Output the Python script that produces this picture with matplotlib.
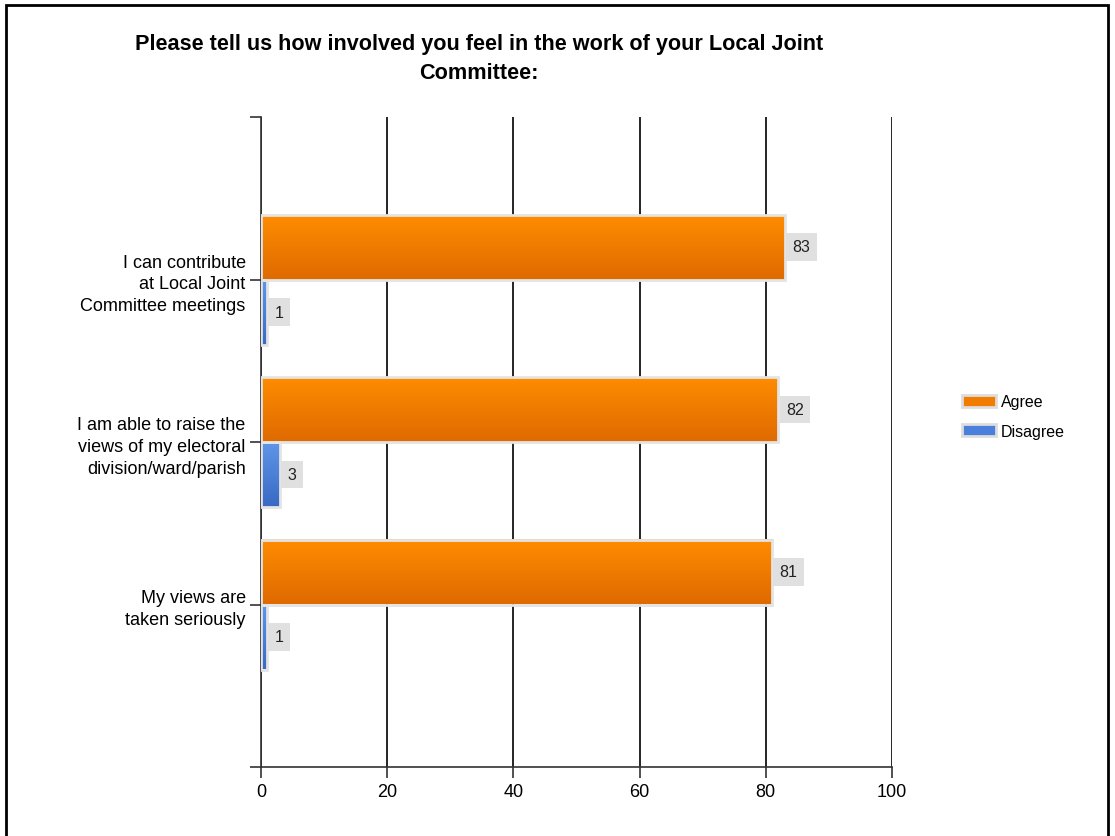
import numpy as np
import matplotlib
matplotlib.use("Agg")
import matplotlib.pyplot as plt
from matplotlib.patches import Patch, Rectangle
from matplotlib.colors import LinearSegmentedColormap

plt.rcParams['font.family'] = ['Liberation Sans', 'DejaVu Sans']

# data
categories = ['I can contribute\nat Local Joint\nCommittee meetings',
              'I am able to raise the\nviews of my electoral\ndivision/ward/parish',
              'My views are\ntaken seriously']
agree = [83, 82, 81]
disagree = [1, 3, 1]
series_names = ['Agree', 'Disagree']
title = 'Please tell us how involved you feel in the work of your Local Joint\nCommittee:'

orange_cmap = LinearSegmentedColormap.from_list('o', ['#ff8c00', '#df6a00'])
blue_cmap = LinearSegmentedColormap.from_list('b', ['#5f95e8', '#3a6ac4'])

fig = plt.figure(figsize=(11.15, 8.37), dpi=100)
ax = fig.add_axes([261 / 1115, 1 - 768 / 837, (892 - 261) / 1115, (768 - 118) / 837])

pos = np.arange(1, len(categories) + 1)
h = 0.4
grad = np.linspace(0, 1, 64).reshape(-1, 1)


def draw_bars(vals, offset, cmap, edge):
    for p, v in zip(pos, vals):
        y0 = p + offset - h / 2
        ax.barh(p + offset, v, height=h, color='none', edgecolor=edge,
                linewidth=2, zorder=4)
        ax.imshow(grad, cmap=cmap, aspect='auto', extent=(0, v, y0 + h, y0),
                  zorder=3, interpolation='bilinear')
        ax.text(v + 1.2, p + offset, str(v), va='center', ha='left', fontsize=11.5,
                color='#222222', zorder=5,
                bbox=dict(boxstyle='square,pad=0.4', facecolor='#e0e0e0',
                          edgecolor='none'))


draw_bars(agree, -h / 2, orange_cmap, '#e4e4e4')
draw_bars(disagree, h / 2, blue_cmap, '#e4e4e4')

ax.set_xlim(0, 100)
ax.set_ylim(4, 0)
ax.set_xticks([0, 20, 40, 60, 80, 100])
ax.set_yticks([0, 1, 2, 3, 4])
ax.set_yticklabels([''] + categories + [''], fontsize=13, ha='right')
ax.tick_params(axis='x', labelsize=13, length=8, width=1.2, color='#333333')
ax.tick_params(axis='y', length=8, width=1.2, color='#333333', pad=3)
for lab in ax.get_yticklabels():
    lab.set_multialignment('right')
    lab.set_linespacing(1.38)
ax.xaxis.grid(True, color='black', linewidth=1.2, zorder=1)
ax.set_axisbelow(True)
for s in ['top', 'right']:
    ax.spines[s].set_visible(False)
for s in ['left', 'bottom']:
    ax.spines[s].set_color('#333333')
    ax.spines[s].set_linewidth(1.2)

fig.text(479 / 1115, 1 - 59 / 837, title, ha='center', va='center',
         fontsize=15.6, fontweight='bold', linespacing=1.45)

handles = [Patch(facecolor='#f07d00', edgecolor='#dddddd', linewidth=2),
           Patch(facecolor='#4a80dc', edgecolor='#dddddd', linewidth=2)]
fig.legend(handles, series_names, loc='upper left',
           bbox_to_anchor=(948 / 1115, 1 - 381 / 837), frameon=False,
           fontsize=11.5, handlelength=2.1, handleheight=0.8, labelspacing=0.9,
           handletextpad=0.3)

fig.patches.append(Rectangle((6 / 1115, -0.05), (1108 - 6) / 1115, 1.05 - 6 / 837,
                             transform=fig.transFigure, fill=False,
                             edgecolor='black', linewidth=2))

fig.savefig('out.png', dpi=100)
